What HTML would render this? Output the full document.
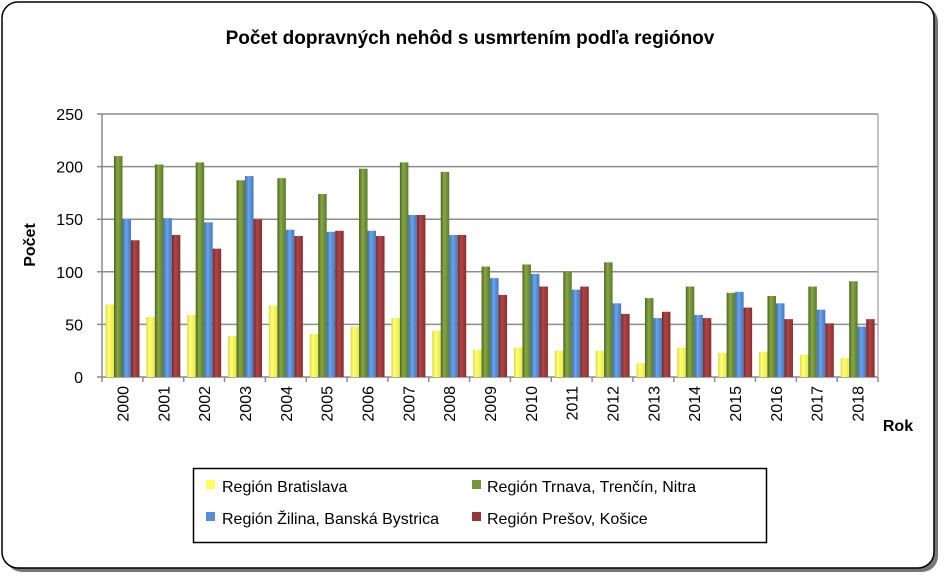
<!DOCTYPE html>
<html><head><meta charset="utf-8"><style>
body{margin:0;width:946px;height:580px;background:#fff;font-family:"Liberation Sans",sans-serif;}
</style></head><body>
<svg width="946" height="580" xmlns="http://www.w3.org/2000/svg">
<defs>
<linearGradient id="gy" x1="0" x2="1"><stop offset="0" stop-color="#d8d84a"/><stop offset="0.35" stop-color="#ffff70"/><stop offset="1" stop-color="#e8e850"/></linearGradient>
<linearGradient id="gg" x1="0" x2="1"><stop offset="0" stop-color="#4d6422"/><stop offset="0.4" stop-color="#86a844"/><stop offset="1" stop-color="#5d7a2a"/></linearGradient>
<linearGradient id="gb" x1="0" x2="1"><stop offset="0" stop-color="#3a6cb0"/><stop offset="0.4" stop-color="#6aa4ea"/><stop offset="1" stop-color="#4478c0"/></linearGradient>
<linearGradient id="gr" x1="0" x2="1"><stop offset="0" stop-color="#7a2626"/><stop offset="0.4" stop-color="#b04646"/><stop offset="1" stop-color="#8a2e2e"/></linearGradient>
</defs>
<rect x="6" y="6" width="932" height="566" rx="16" fill="#777"/>
<rect x="2" y="2" width="932" height="566" rx="16" fill="#fff" stroke="#000" stroke-width="1.5"/>
<text x="470" y="44" text-anchor="middle" font-size="19" font-weight="bold">Počet dopravných nehôd s usmrtením podľa regiónov</text>
<g id="plot"></g>
<text transform="translate(35,245) rotate(-90)" text-anchor="middle" font-size="16" font-weight="bold">Počet</text>
<text x="898" y="431" text-anchor="middle" font-size="16" font-weight="bold">Rok</text>
<g>
<rect x="193.5" y="468.5" width="573" height="74" fill="#fff" stroke="#000" stroke-width="1.5"/>
<rect x="206" y="480" width="9" height="9" fill="#ffff60"/>
<text x="222" y="492" font-size="16">Región Bratislava</text>
<rect x="472" y="480" width="9" height="9" fill="#77933c"/>
<text x="487" y="492" font-size="16">Región Trnava, Trenčín, Nitra</text>
<rect x="206" y="512" width="9" height="9" fill="#558ed5"/>
<text x="222" y="524" font-size="16">Región Žilina, Banská Bystrica</text>
<rect x="472" y="512" width="9" height="9" fill="#953735"/>
<text x="487" y="524" font-size="16">Región Prešov, Košice</text>
</g>
</svg>
<script>
const years=["2000","2001","2002","2003","2004","2005","2006","2007","2008","2009","2010","2011","2012","2013","2014","2015","2016","2017","2018"];
const bratislava=[69,57,59,39,68,41,48,56,44,26,28,25,25,13,28,23,24,21,18];
const trnava=[210,202,204,187,189,174,198,204,195,105,107,100,109,75,86,80,77,86,91];
const zilina=[150,151,147,191,140,138,139,154,135,94,98,83,70,56,59,81,70,64,48];
const presov=[130,135,122,150,134,139,134,154,135,78,86,86,60,62,56,66,55,51,55];
const yTicks=[0,50,100,150,200,250];
const NS="http://www.w3.org/2000/svg";
const g=document.getElementById('plot');
const L=102,R=878,T=114,B=377,YMAX=250;
const y=v=>B-v/YMAX*(B-T);
const gw=(R-L)/years.length;
const x=i=>L+i*gw;
function mk(t,a){const e=document.createElementNS(NS,t);for(const k in a)e.setAttribute(k,a[k]);g.appendChild(e);return e;}
yTicks.forEach(v=>{
 const ln=mk('line',{x1:L-5,x2:R,y1:y(v),y2:y(v),stroke:'#8c8c8c','stroke-width':1.5});
 
 
 const t=mk('text',{x:L-19,y:y(v)+6,'text-anchor':'end','font-size':16});
 t.textContent=v;
 
 
});
mk('line',{x1:L,x2:L,y1:T,y2:B,stroke:'#8c8c8c','stroke-width':1.5});
mk('line',{x1:R,x2:R,y1:T,y2:B,stroke:'#b0b0b0','stroke-width':1.5});
const series=[[bratislava,'url(#gy)','bratislava'],[trnava,'url(#gg)','trnava'],[zilina,'url(#gb)','zilina'],[presov,'url(#gr)','presov']];
const bw=8.5;
years.forEach((yr,i)=>{
 series.forEach((s,k)=>{
  const v=s[0][i];
  const r=mk('rect',{x:x(i)+3.5+k*bw,y:y(v),width:bw,height:B-y(v),fill:s[1]});
  
  
 });
 mk('line',{x1:x(i),x2:x(i),y1:B,y2:B+5,stroke:'#8c8c8c','stroke-width':1.5});
 const cx=x(i)+gw/2;
 const t=mk('text',{transform:`translate(${cx+6},${B+9}) rotate(-90)`,'text-anchor':'end','font-size':16});
 t.textContent=yr;
 
 
});
mk('line',{x1:R,x2:R,y1:B,y2:B+5,stroke:'#8c8c8c','stroke-width':1.5});
</script>
</body></html>
